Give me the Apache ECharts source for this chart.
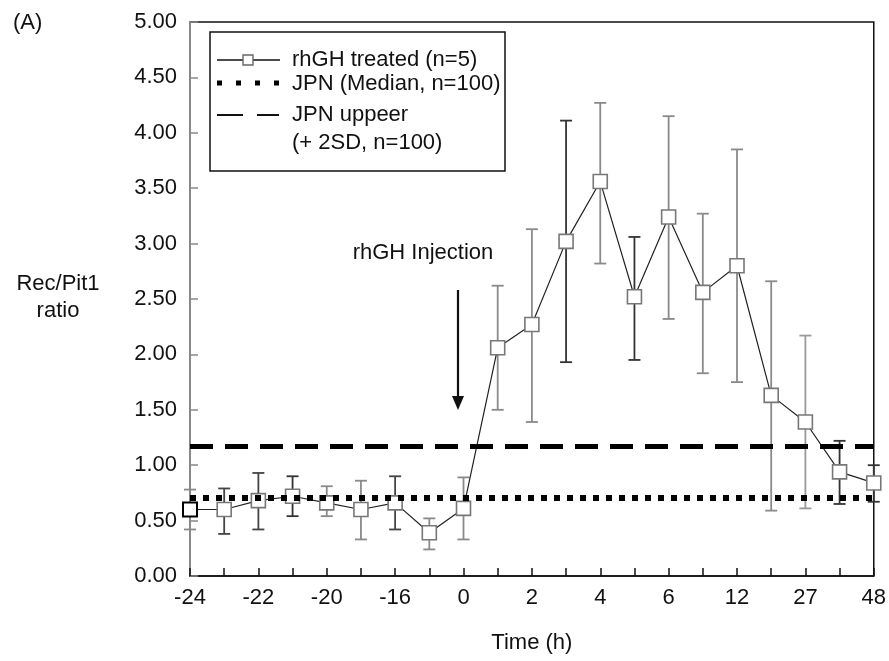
<!DOCTYPE html>
<html>
<head>
<meta charset="utf-8">
<script src="https://cdn.jsdelivr.net/npm/echarts@6/dist/echarts.min.js"></script>
<style>
    html, body { margin: 0; padding: 0; background: #fff; }
    #chart { width: 889px; height: 661px; }
</style>
</head>
<body>
<div id="chart"></div>
<script>
    // x ticks: one per sample, every other one labelled
    var timeLabels = ['-24', '', '-22', '', '-20', '', '-16', '', '0', '', '2', '',
        '4', '', '6', '', '12', '', '27', '', '48'];
    // rhGH treated (n=5), mean with error bar ends
    var ratioMean = [0.60, 0.60, 0.68, 0.72, 0.66, 0.60, 0.66, 0.39, 0.61, 2.06, 2.27,
        3.02, 3.56, 2.52, 3.24, 2.56, 2.80, 1.63, 1.39, 0.94, 0.84];
    var ratioLow = [0.42, 0.38, 0.42, 0.54, 0.54, 0.33, 0.42, 0.24, 0.33, 1.50, 1.39,
        1.93, 2.82, 1.95, 2.32, 1.83, 1.75, 0.59, 0.61, 0.65, 0.67];
    var ratioHigh = [0.78, 0.79, 0.93, 0.90, 0.81, 0.86, 0.90, 0.52, 0.89, 2.62, 3.13,
        4.11, 4.27, 3.06, 4.15, 3.27, 3.85, 2.66, 2.17, 1.22, 1.00];
    // JPN reference (n=100)
    var jpnMedian = 0.71;
    var jpnUpper = 1.17;
    var yTicks = [0, 5, 0.5];

    // scan shading of the error bars (some print dark, some grey)
    var barShade = ['#8a8a8a', '#444', '#444', '#333', '#8a8a8a', '#8a8a8a', '#444', '#8a8a8a',
        '#8a8a8a', '#8a8a8a', '#8a8a8a', '#333', '#8a8a8a', '#333', '#8a8a8a', '#8a8a8a',
        '#8a8a8a', '#8a8a8a', '#999', '#333', '#333'];

    var FONT = '"Liberation Sans", Arial, Helvetica, sans-serif';
    var FS = 22;

    var chart = echarts.init(document.getElementById('chart'), null, {renderer: 'canvas'});

    var errorData = [];
    for (var i = 0; i < ratioMean.length; i++) {
        errorData.push([i, ratioLow[i], ratioHigh[i]]);
    }
    var meanData = ratioMean.map(function (v, i) {
        if (i === 0) {
            return {value: v, itemStyle: {borderColor: '#000', borderWidth: 2}};
        }
        return v;
    });

    function renderErrorBar(params, api) {
        var lo = api.coord([api.value(0), api.value(1)]);
        var hi = api.coord([api.value(0), api.value(2)]);
        var half = 6;
        var style = {stroke: barShade[params.dataIndex], lineWidth: 1.8};
        return {
            type: 'group',
            children: [
                {type: 'line', shape: {x1: hi[0], y1: hi[1], x2: lo[0], y2: lo[1]}, style: style},
                {type: 'line', shape: {x1: hi[0] - half, y1: hi[1], x2: hi[0] + half, y2: hi[1]}, style: style},
                {type: 'line', shape: {x1: lo[0] - half, y1: lo[1], x2: lo[0] + half, y2: lo[1]}, style: style}
            ]
        };
    }

    var option = {
        backgroundColor: '#fff',
        animation: false,
        grid: {
            left: 190, right: 14, top: 22, bottom: 85,
            show: true, borderColor: '#111', borderWidth: 1.5
        },
        xAxis: {
            type: 'category',
            data: timeLabels,
            boundaryGap: false,
            name: 'Time (h)',
            nameLocation: 'middle',
            nameGap: 56,
            nameTextStyle: {fontFamily: FONT, fontSize: FS, color: '#111'},
            axisLine: {lineStyle: {color: '#111', width: 1.5}},
            axisTick: {inside: true, length: 8, interval: 0, lineStyle: {color: '#111', width: 1.5}},
            axisLabel: {interval: 0, margin: 11, fontFamily: FONT, fontSize: FS, color: '#111'},
            splitLine: {show: false}
        },
        yAxis: {
            type: 'value',
            min: yTicks[0],
            max: yTicks[1],
            interval: yTicks[2],
            axisLine: {show: true, lineStyle: {color: '#888', width: 2}},
            axisTick: {show: true, inside: true, length: 8, lineStyle: {color: '#888', width: 1.5}},
            axisLabel: {
                margin: 13, fontFamily: FONT, fontSize: FS, color: '#111',
                formatter: function (v) { return v.toFixed(2); }
            },
            splitLine: {show: false}
        },
        series: [
            {
                name: 'error',
                type: 'custom',
                renderItem: renderErrorBar,
                data: errorData,
                encode: {x: 0, y: [1, 2]},
                z: 2
            },
            {
                name: 'rhGH treated (n=5)',
                type: 'line',
                data: meanData,
                symbol: 'rect',
                symbolSize: 14,
                lineStyle: {color: '#222', width: 1.2},
                itemStyle: {color: '#fff', borderColor: '#777', borderWidth: 1.6},
                z: 4,
                markLine: {
                    silent: true,
                    symbol: 'none',
                    label: {show: false},
                    data: [
                        {yAxis: jpnMedian, lineStyle: {color: '#000', width: 6, type: [6, 7]}},
                        {yAxis: jpnUpper, lineStyle: {color: '#000', width: 5, type: [23, 12]}}
                    ]
                }
            }
        ],
        graphic: [
            {type: 'text', left: 13, top: 12, style: {text: '(A)', font: FS + 'px ' + FONT, fill: '#111'}},
            {
                type: 'text', x: 58, y: 297,
                style: {
                    text: 'Rec/Pit1\nratio', font: FS + 'px ' + FONT, fill: '#111',
                    align: 'center', verticalAlign: 'middle', lineHeight: 27
                }
            },
            // injection note and arrow
            {
                type: 'text', x: 423, y: 253,
                style: {text: 'rhGH Injection', font: FS + 'px ' + FONT, fill: '#111', align: 'center', verticalAlign: 'middle'}
            },
            {type: 'line', shape: {x1: 458, y1: 290, x2: 458, y2: 400}, style: {stroke: '#111', lineWidth: 2.2}},
            {type: 'polygon', shape: {points: [[452, 396], [464, 396], [458, 410]]}, style: {fill: '#111'}},
            // legend box
            {type: 'rect', shape: {x: 210, y: 32, width: 295, height: 139}, style: {fill: '#fff', stroke: '#111', lineWidth: 1.5}, z: 10},
            {type: 'line', shape: {x1: 217, y1: 60, x2: 280, y2: 60}, style: {stroke: '#111', lineWidth: 1.3}, z: 11},
            {type: 'rect', shape: {x: 243, y: 55, width: 10, height: 10}, style: {fill: '#fff', stroke: '#666', lineWidth: 1.4}, z: 12},
            {type: 'text', x: 292, y: 60, style: {text: 'rhGH treated (n=5)', font: FS + 'px ' + FONT, fill: '#111', verticalAlign: 'middle'}, z: 11},
            {type: 'line', shape: {x1: 217, y1: 83, x2: 282, y2: 83}, style: {stroke: '#000', lineWidth: 5, lineDash: [5, 14]}, z: 11},
            {type: 'text', x: 292, y: 84, style: {text: 'JPN (Median, n=100)', font: FS + 'px ' + FONT, fill: '#111', verticalAlign: 'middle'}, z: 11},
            {type: 'line', shape: {x1: 217, y1: 115, x2: 279, y2: 115}, style: {stroke: '#111', lineWidth: 1.8, lineDash: [26, 14]}, z: 11},
            {type: 'text', x: 292, y: 115, style: {text: 'JPN uppeer', font: FS + 'px ' + FONT, fill: '#111', verticalAlign: 'middle'}, z: 11},
            {type: 'text', x: 292, y: 143, style: {text: '(+ 2SD, n=100)', font: FS + 'px ' + FONT, fill: '#111', verticalAlign: 'middle'}, z: 11}
        ]
    };

    chart.setOption(option);
</script>
</body>
</html>
